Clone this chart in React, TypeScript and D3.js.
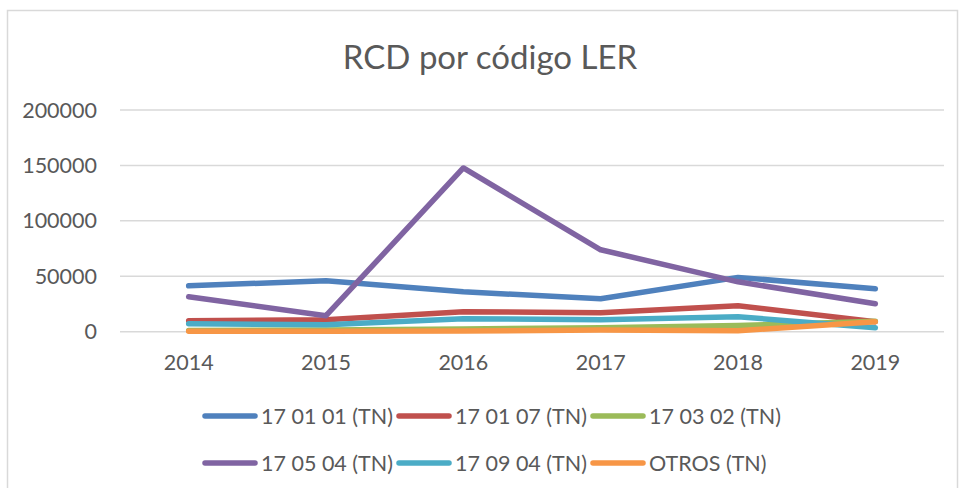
import { useEffect, useRef } from "react";
import * as d3 from "d3";

const years = ["2014", "2015", "2016", "2017", "2018", "2019"];
const yTicks = [0, 50000, 100000, 150000, 200000];

const seriesNames = ["17 01 01 (TN)", "17 01 07 (TN)", "17 03 02 (TN)", "17 05 04 (TN)", "17 09 04 (TN)", "OTROS (TN)"];
const seriesColors = ["#4F81BD", "#C0504D", "#9BBB59", "#8064A2", "#4BACC6", "#F79646"];

const v170101 = [41400, 45900, 36000, 29700, 49000, 38700];
const v170107 = [9900, 10800, 18000, 17100, 23400, 9000];
const v170302 = [1000, 1500, 2500, 3500, 5500, 9500];
const v170504 = [31500, 14400, 147700, 73900, 45000, 25200];
const v170904 = [7200, 6300, 11700, 10800, 13500, 3600];
const vOtros = [500, 500, 600, 1500, 800, 9000];

const allValues = [v170101, v170107, v170302, v170504, v170904, vOtros];

const W = 960;
const H = 488;
const font = "Lato, 'Open Sans', sans-serif";
const textColor = "#595959";

export default function App() {
  const ref = useRef<SVGSVGElement>(null);

  useEffect(() => {
    const svg = d3.select(ref.current);
    svg.selectAll("*").remove();

    // chart frame
    svg
      .append("rect")
      .attr("x", 7.5)
      .attr("y", 10.5)
      .attr("width", 950)
      .attr("height", 500)
      .attr("fill", "white")
      .attr("stroke", "#D9D9D9")
      .attr("stroke-width", 1.5);

    svg
      .append("text")
      .attr("x", 490)
      .attr("y", 69)
      .attr("text-anchor", "middle")
      .attr("font-family", font)
      .attr("font-size", 33)
      .attr("fill", textColor)
      .text("RCD por código LER");

    const x = d3.scaleBand().domain(years).range([120, 944]);
    const y = d3.scaleLinear().domain([0, 200000]).range([331.7, 110]);

    // grid
    svg
      .append("g")
      .selectAll("line")
      .data(yTicks)
      .enter()
      .append("line")
      .attr("x1", 120)
      .attr("x2", 944)
      .attr("y1", (d) => y(d))
      .attr("y2", (d) => y(d))
      .attr("stroke", "#D9D9D9")
      .attr("stroke-width", 1.5);

    svg
      .append("g")
      .selectAll("text")
      .data(yTicks)
      .enter()
      .append("text")
      .attr("x", 97)
      .attr("y", (d) => y(d))
      .attr("dy", "0.35em")
      .attr("text-anchor", "end")
      .attr("font-family", font)
      .attr("font-size", 21.5)
      .attr("fill", textColor)
      .text((d) => String(d));

    svg
      .append("g")
      .selectAll("text")
      .data(years)
      .enter()
      .append("text")
      .attr("x", (d) => x(d)! + x.bandwidth() / 2)
      .attr("y", 362)
      .attr("dy", "0.35em")
      .attr("text-anchor", "middle")
      .attr("font-family", font)
      .attr("font-size", 21.5)
      .attr("fill", textColor)
      .text((d) => d);

    const line = d3
      .line<number>()
      .x((_, i) => x(years[i])! + x.bandwidth() / 2)
      .y((d) => y(d));

    allValues.forEach((vals, i) => {
      svg
        .append("path")
        .datum(vals)
        .attr("d", line)
        .attr("fill", "none")
        .attr("stroke", seriesColors[i])
        .attr("stroke-width", 5.5)
        .attr("stroke-linecap", "round")
        .attr("stroke-linejoin", "round");
    });

    // legend, 3 per row
    const legend = svg.append("g");
    seriesNames.forEach((name, i) => {
      const col = i % 3;
      const row = Math.floor(i / 3);
      const lx = 205 + col * 194;
      const ly = 416 + row * 47;
      legend
        .append("line")
        .attr("x1", lx)
        .attr("x2", lx + 50)
        .attr("y1", ly)
        .attr("y2", ly)
        .attr("stroke", seriesColors[i])
        .attr("stroke-width", 5.5)
        .attr("stroke-linecap", "round");
      legend
        .append("text")
        .attr("x", lx + 56)
        .attr("y", ly)
        .attr("dy", "0.35em")
        .attr("font-family", font)
        .attr("font-size", 21.5)
        .attr("fill", textColor)
        .text(name);
    });
  }, []);

  return <svg ref={ref} width={W} height={H} style={{ position: "absolute", left: 0, top: 0 }} />;
}
